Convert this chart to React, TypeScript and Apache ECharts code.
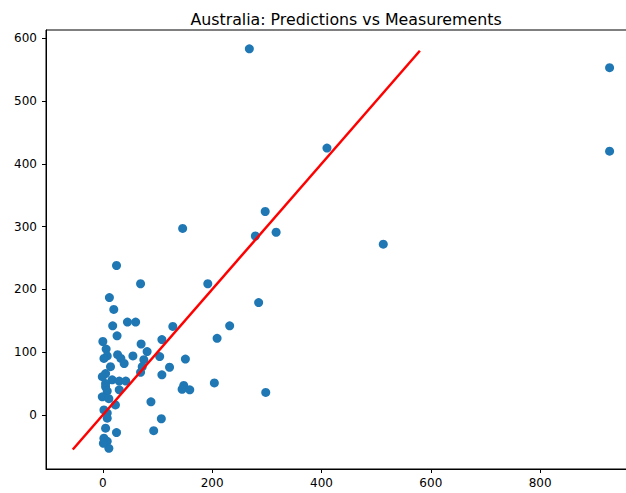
import React, { useEffect, useRef } from "react";
import * as echarts from "echarts";

const measured: number[] = [
  268, 927, 927, 410, 513, 297, 317, 279, 146, 192, 285, 232, 209, 128, 108, 70, 81, 55, 75, 104,
  151, 72, 69, 122, 108, 148, 145, 159, 204, 298, 88, 107, 93, 25, 69, 12, 20, 45, 60, 18,
  26, 0, 6, 8, 2, 27, 33, 39, 14, 5, -1, 17, 30, 42, 5, 5, 8, 30, -1, 11,
  23, 2, 8, 8, 5, 25, 2, 8, 11, 1,
];
const predicted: number[] = [
  583, 553, 420, 425, 272, 324, 291, 285, 297, 209, 179, 142, 122, 141, 120, 113, 101, 94, 88, 93,
  89, 77, 68, 76, 64, 47, 41, 40, 51, 36, 21, -6, -25, 238, 209, 187, 168, 148, 148, 142,
  126, 117, 105, 94, 90, 96, 90, 82, 77, 66, 61, 56, 54, 54, 50, 45, 38, 40, 29, 26,
  16, 8, 3, -5, -21, -28, -37, -42, -53, -45,
];
const fitLine: number[][] = [
  [-55, -55],
  [580, 580],
];
const xTicks: number[] = [0, 200, 400, 600, 800];
const yTicks: number[] = [0, 100, 200, 300, 400, 500, 600];
const titleText = "Australia: Predictions vs Measurements";

export default function App() {
  const ref = useRef<HTMLDivElement>(null);
  useEffect(() => {
    if (!ref.current) return;
    const chart = echarts.init(ref.current, null, { renderer: "svg" });
    const font = "DejaVu Sans";
    chart.setOption({
      animation: false,
      backgroundColor: "#ffffff",
      textStyle: { fontFamily: font },
      title: {
        text: titleText,
        left: 341,
        textAlign: "center",
        top: 6,
        textStyle: { fontFamily: font, fontSize: 15.8, fontWeight: "normal", color: "#000" },
      },
      grid: {
        left: 46,
        top: 30,
        right: 6,
        bottom: 24,
        show: true,
        borderColor: "#000",
        borderWidth: 1,
        backgroundColor: "transparent",
      },
      xAxis: {
        type: "value",
        min: -104,
        max: 979,
        splitLine: { show: false },
        axisLine: { show: true, onZero: false, lineStyle: { color: "#000" } },
        axisTick: { show: true, inside: false, length: 4, lineStyle: { color: "#000" }, customValues: xTicks },
        axisLabel: { color: "#000", fontSize: 12, margin: 8, fontFamily: font, customValues: xTicks },
      },
      yAxis: {
        type: "value",
        min: -86,
        max: 613,
        splitLine: { show: false },
        axisLine: { show: true, onZero: false, lineStyle: { color: "#000" } },
        axisTick: { show: true, inside: false, length: 4, lineStyle: { color: "#000" }, customValues: yTicks },
        axisLabel: { color: "#000", fontSize: 12, margin: 9, fontFamily: font, customValues: yTicks },
      },
      series: [
        {
          type: "scatter",
          data: measured.map((x, i) => [x, predicted[i]]),
          symbolSize: 9,
          itemStyle: { color: "#1f77b4", opacity: 1 },
          z: 2,
        },
        {
          type: "line",
          data: fitLine,
          showSymbol: false,
          symbol: "none",
          lineStyle: { color: "#ff0000", width: 2.5 },
          z: 3,
        },
      ],
    });
    return () => chart.dispose();
  }, []);
  return (
    <div
      style={{ position: "fixed", left: 0, top: 0, width: 626, height: 493, overflow: "hidden", background: "#fff" }}
    >
      <div ref={ref} style={{ width: 644, height: 493 }} />
    </div>
  );
}
